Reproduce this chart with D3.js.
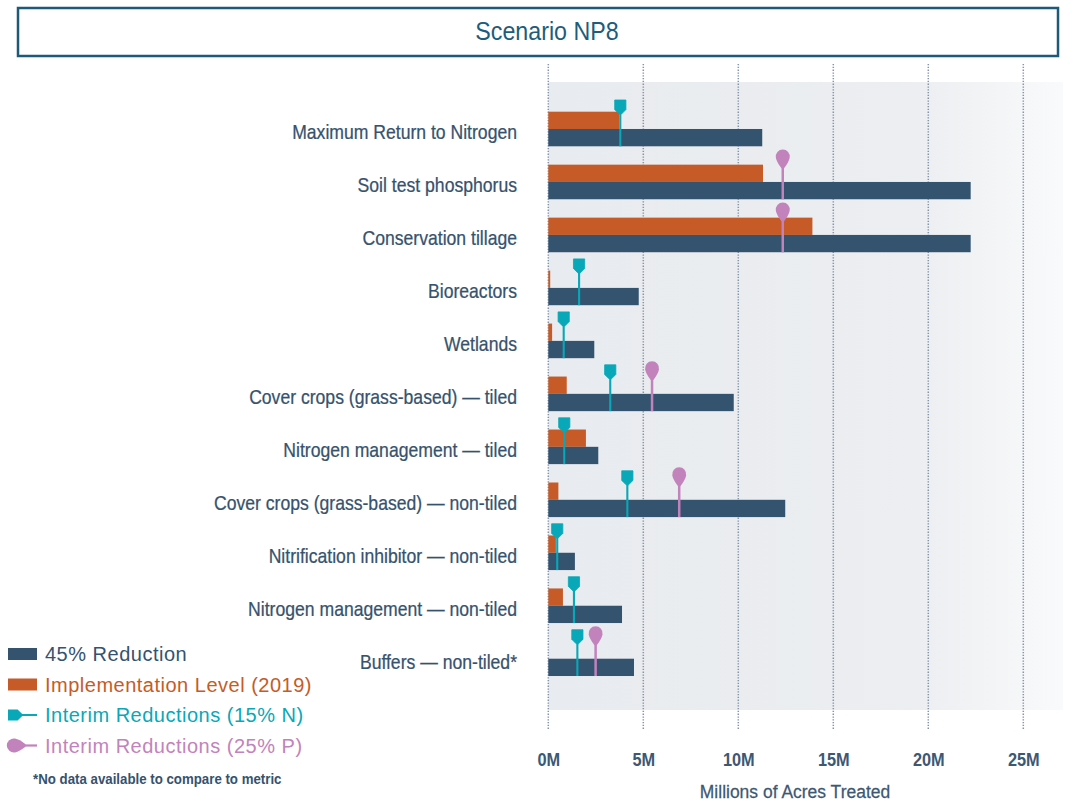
<!DOCTYPE html>
<html>
<head>
<meta charset="utf-8">
<script src="https://cdn.jsdelivr.net/npm/d3@7"></script>
<style>
  html, body { margin: 0; padding: 0; background: #ffffff; }
  svg { display: block; }
</style>
</head>
<body>
<svg id="chart" width="1079" height="801"></svg>
<script>
// Practices in display order (top to bottom)
const categories = [
  "Maximum Return to Nitrogen",
  "Soil test phosphorus",
  "Conservation tillage",
  "Bioreactors",
  "Wetlands",
  "Cover crops (grass-based) — tiled",
  "Nitrogen management — tiled",
  "Cover crops (grass-based) — non-tiled",
  "Nitrification inhibitor — non-tiled",
  "Nitrogen management — non-tiled",
  "Buffers — non-tiled*"
];

// Millions of acres treated
const reduction45 = [11.26, 22.23, 22.23, 4.76, 2.42, 9.76, 2.63, 12.47, 1.40, 3.88, 4.51];
const implementation2019 = [3.74, 11.30, 13.90, 0.10, 0.20, 0.97, 1.98, 0.53, 0.40, 0.77, null];
const interimN15 = [3.79, null, null, 1.62, 0.81, 3.26, 0.84, 4.16, 0.47, 1.35, 1.53];
const interimP25 = [null, 12.34, 12.34, null, null, 5.46, null, 6.89, null, null, 2.49];

const tickValues = [0, 5, 10, 15, 20, 25];
const tickLabels = ["0M", "5M", "10M", "15M", "20M", "25M"];

const legendItems = [
  { key: "bar45", label: "45% Reduction", color: "#34536f" },
  { key: "barImpl", label: "Implementation Level (2019)", color: "#c65b27" },
  { key: "pinN", label: "Interim Reductions (15% N)", color: "#08a8b8" },
  { key: "pinP", label: "Interim Reductions (25% P)", color: "#c283bd" }
];

const C = {
  blue: "#34536f",
  orange: "#c65b27",
  teal: "#08a8b8",
  pink: "#c283bd",
  text: "#36526d",
  title: "#1d5d7b",
  grid: "#8494a9"
};

const sans = "'Liberation Sans', Arial, Helvetica, sans-serif";

// condensed text: regular sans squeezed horizontally around its anchor point
function narrowText(parent, px, py, str, opts) {
  const o = Object.assign({ size: 19, squeeze: 0.84, anchor: "start", weight: "normal", fill: C.text, halo: 0 }, opts);
  const g = parent.append("g").attr("transform", `translate(${px},${py}) scale(${o.squeeze},1)`);
  const t = g.append("text")
    .attr("x", 0).attr("y", 0).attr("dy", "0.35em")
    .attr("text-anchor", o.anchor)
    .attr("font-family", sans)
    .attr("font-size", o.size)
    .attr("font-weight", o.weight)
    .attr("fill", o.fill)
    .text(str);
  if (o.halo) t.attr("stroke", o.fill).attr("stroke-width", o.halo);
  return g;
}

const svg = d3.select("#chart");

// ---- title box ----
svg.append("rect")
  .attr("x", 18).attr("y", 8).attr("width", 1040).attr("height", 48)
  .attr("fill", "#ffffff").attr("stroke", "#1d5a78").attr("stroke-width", 2.5);
narrowText(svg, 547, 31, "Scenario NP8", { size: 25, squeeze: 0.93, anchor: "middle", fill: C.title });

// ---- scales ----
const x = d3.scaleLinear().domain([0, 25]).range([548.3, 1023.3]);
const y = d3.scaleBand().domain(categories).range([102.5, 685.2]).padding(0);
const sub = d3.scaleBand().domain(["impl", "goal"]).range([-17.3, 17.3]).padding(0);
const center = c => y(c) + y.bandwidth() / 2;

// ---- plot panel with fading right edge ----
const defs = svg.append("defs");
const grad = defs.append("linearGradient").attr("id", "panelFade")
  .attr("x1", "0%").attr("x2", "100%").attr("y1", "0%").attr("y2", "0%");
grad.append("stop").attr("offset", "0%").attr("stop-color", "#e8ebef");
grad.append("stop").attr("offset", "72%").attr("stop-color", "#eceef1");
grad.append("stop").attr("offset", "100%").attr("stop-color", "#f9fafb");

svg.append("rect")
  .attr("x", x(0)).attr("y", 82)
  .attr("width", 1063 - x(0)).attr("height", 628)
  .attr("fill", "url(#panelFade)");

// ---- dotted vertical gridlines ----
svg.append("g").selectAll("line")
  .data(tickValues)
  .join("line")
  .attr("x1", d => x(d)).attr("x2", d => x(d))
  .attr("y1", 64).attr("y2", 729)
  .attr("stroke", C.grid)
  .attr("stroke-width", 1.5)
  .attr("stroke-dasharray", "1.3,1.5");

// ---- bars ----
const rows = categories.map((c, i) => ({
  cat: c,
  goal: reduction45[i],
  impl: implementation2019[i],
  n15: interimN15[i],
  p25: interimP25[i]
}));

const barLayer = svg.append("g");
barLayer.selectAll("rect.impl")
  .data(rows.filter(d => d.impl != null))
  .join("rect")
  .attr("class", "impl")
  .attr("x", x(0))
  .attr("y", d => center(d.cat) + sub("impl"))
  .attr("width", d => x(d.impl) - x(0))
  .attr("height", sub.bandwidth())
  .attr("fill", C.orange);

barLayer.selectAll("rect.goal")
  .data(rows)
  .join("rect")
  .attr("class", "goal")
  .attr("x", x(0))
  .attr("y", d => center(d.cat) + sub("goal"))
  .attr("width", d => x(d.goal) - x(0))
  .attr("height", sub.bandwidth())
  .attr("fill", C.blue);

// ---- interim reduction pins ----
// shield-shaped head (15% N), pointing down
const shieldDown = "M-5.6,0 L5.6,0 L5.6,9.6 L1.2,14 L-1.2,14 L-5.6,9.6 Z";
// round head (25% P) with a tapered tip, pointing down
const dropDown = "M-6.9,7 A7,7 0 1,1 6.9,7 Q6,11.5 1.3,17.5 L-1.3,17.5 Q-6,11.5 -6.9,7 Z";

const pinLayer = svg.append("g");
const barBottom = d => center(d.cat) + sub("goal") + sub.bandwidth();
const barTop = d => center(d.cat) + sub("impl");

const nPins = pinLayer.selectAll("g.pinN")
  .data(rows.filter(d => d.n15 != null))
  .join("g").attr("class", "pinN");
nPins.append("line")
  .attr("x1", d => x(d.n15)).attr("x2", d => x(d.n15))
  .attr("y1", d => barTop(d) - 2).attr("y2", d => barBottom(d))
  .attr("stroke", C.teal).attr("stroke-width", 2.1);
nPins.append("path")
  .attr("d", shieldDown)
  .attr("transform", d => `translate(${x(d.n15)},${barTop(d) - 11.7})`)
  .attr("fill", C.teal).attr("stroke", C.teal).attr("stroke-width", 0.8)
  .attr("stroke-linejoin", "round");

const pPins = pinLayer.selectAll("g.pinP")
  .data(rows.filter(d => d.p25 != null))
  .join("g").attr("class", "pinP");
pPins.append("line")
  .attr("x1", d => x(d.p25)).attr("x2", d => x(d.p25))
  .attr("y1", d => barTop(d)).attr("y2", d => barBottom(d))
  .attr("stroke", C.pink).attr("stroke-width", 2.5);
pPins.append("path")
  .attr("d", dropDown)
  .attr("transform", d => `translate(${x(d.p25)},${barTop(d) - 14})`)
  .attr("fill", C.pink);

// ---- category labels ----
const labelLayer = svg.append("g");
categories.forEach(c => {
  narrowText(labelLayer, 517, center(c) + 3, c, { size: 20, squeeze: 0.88, anchor: "end", halo: 0.25 });
});

// ---- bottom axis ----
const axis = d3.axisBottom(x)
  .tickValues(tickValues)
  .tickFormat((d, i) => tickLabels[i])
  .tickSize(0)
  .tickPadding(0);
const axisG = svg.append("g")
  .attr("transform", "translate(0,752)")
  .call(axis);
axisG.select(".domain").remove();
axisG.selectAll(".tick text")
  .attr("font-family", sans)
  .attr("font-size", 19)
  .attr("font-weight", "bold")
  .attr("fill", "#3d5873")
  .attr("transform", "scale(0.86,1)");

narrowText(svg, 795, 791, "Millions of Acres Treated",
  { size: 19, squeeze: 0.92, anchor: "middle", fill: "#3d5873", halo: 0.25 });

// ---- legend ----
const legend = svg.append("g").attr("transform", "translate(8,654)");
const lg = legend.selectAll("g")
  .data(legendItems)
  .join("g")
  .attr("transform", (d, i) => `translate(0,${i * 30.5})`);

lg.filter(d => d.key.startsWith("bar"))
  .append("rect")
  .attr("x", 0).attr("y", -6).attr("width", 29).attr("height", 12)
  .attr("fill", d => d.color);

lg.filter(d => d.key === "pinN").call(g => {
  g.append("line").attr("x1", 10).attr("x2", 29).attr("y1", 0).attr("y2", 0)
    .attr("stroke", d => d.color).attr("stroke-width", 2);
  g.append("path").attr("d", shieldDown)
    .attr("transform", "translate(0,0) rotate(-90)")
    .attr("fill", d => d.color);
});
lg.filter(d => d.key === "pinP").call(g => {
  g.append("line").attr("x1", 12).attr("x2", 29).attr("y1", 0).attr("y2", 0)
    .attr("stroke", d => d.color).attr("stroke-width", 2.2);
  g.append("path").attr("d", dropDown)
    .attr("transform", "translate(0,0) rotate(-90)")
    .attr("fill", d => d.color);
});

lg.append("text")
  .attr("x", 37).attr("y", 0).attr("dy", "0.35em")
  .attr("font-family", sans)
  .attr("font-size", 20)
  .attr("letter-spacing", 0.5)
  .attr("fill", d => d.color)
  .text(d => d.label);

narrowText(svg, 33, 779, "*No data available to compare to metric",
  { size: 15, squeeze: 0.885, weight: "bold" });
</script>
</body>
</html>
